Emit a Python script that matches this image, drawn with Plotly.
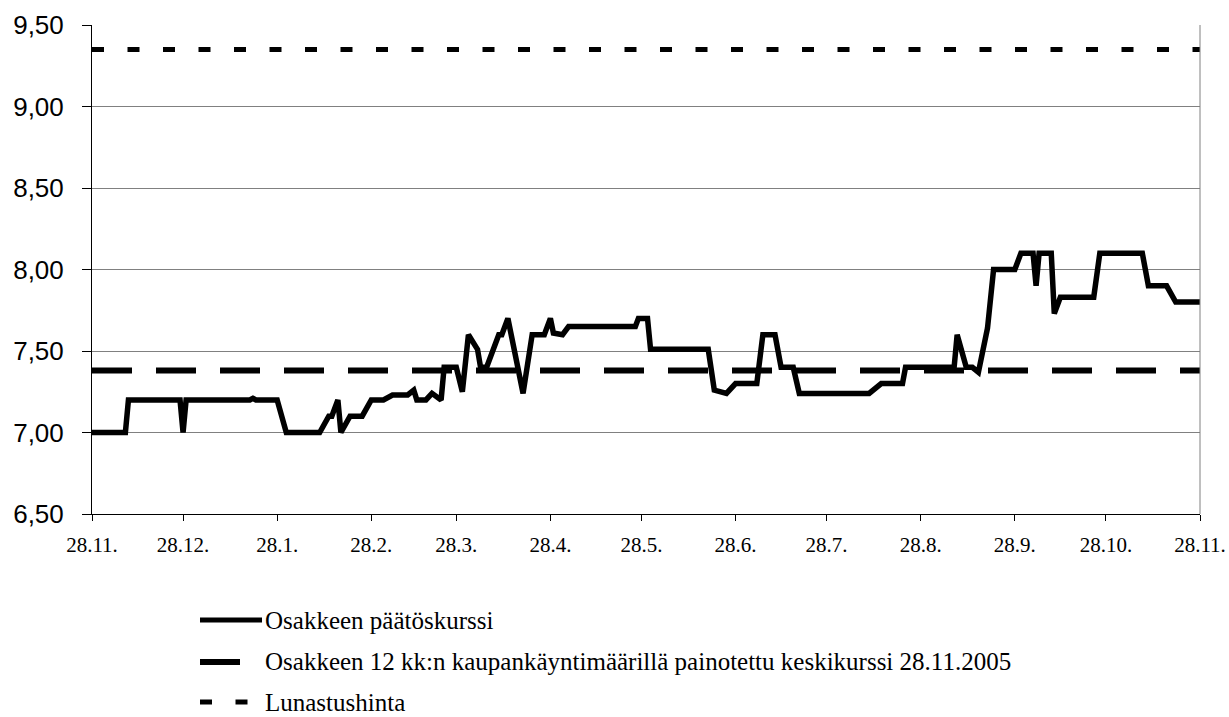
import plotly.graph_objects as go

# ---- data ----
dates = ["2004-11-28","2004-12-09","2004-12-10","2004-12-27","2004-12-28","2004-12-29",
         "2005-01-19","2005-01-20","2005-01-21","2005-01-28","2005-01-31","2005-02-11",
         "2005-02-14","2005-02-15","2005-02-17","2005-02-18","2005-02-21","2005-02-25",
         "2005-02-28","2005-03-04","2005-03-07","2005-03-12","2005-03-14","2005-03-15",
         "2005-03-18","2005-03-20","2005-03-23","2005-03-24","2005-03-28","2005-03-30",
         "2005-04-01","2005-04-04","2005-04-05","2005-04-07","2005-04-11","2005-04-12",
         "2005-04-14","2005-04-19","2005-04-22","2005-04-26","2005-04-28","2005-04-29",
         "2005-05-02","2005-05-04","2005-05-26","2005-05-27","2005-05-30","2005-05-31",
         "2005-06-19","2005-06-21","2005-06-25","2005-06-28","2005-07-05","2005-07-07",
         "2005-07-11","2005-07-13","2005-07-17","2005-07-19","2005-08-11","2005-08-15",
         "2005-08-22","2005-08-23","2005-09-08","2005-09-09","2005-09-12","2005-09-14",
         "2005-09-16","2005-09-19","2005-09-21","2005-09-28","2005-09-30","2005-10-04",
         "2005-10-05","2005-10-06","2005-10-10","2005-10-11","2005-10-13","2005-10-24",
         "2005-10-26","2005-11-09","2005-11-11","2005-11-17","2005-11-20","2005-11-28"]
closing_price = [7.00, 7.00, 7.20, 7.20, 7.00, 7.20, 7.20, 7.21, 7.20, 7.20, 7.00, 7.00,
                 7.10, 7.10, 7.20, 7.00, 7.10, 7.10, 7.20, 7.20, 7.23, 7.23, 7.26, 7.20,
                 7.20, 7.24, 7.20, 7.40, 7.40, 7.25, 7.60, 7.51, 7.40, 7.40, 7.60, 7.60,
                 7.70, 7.24, 7.60, 7.60, 7.70, 7.61, 7.60, 7.65, 7.65, 7.70, 7.70, 7.51,
                 7.51, 7.26, 7.24, 7.30, 7.30, 7.60, 7.60, 7.40, 7.40, 7.24, 7.24, 7.30,
                 7.30, 7.40, 7.40, 7.60, 7.40, 7.40, 7.37, 7.64, 8.00, 8.00, 8.10, 8.10,
                 7.90, 8.10, 8.10, 7.73, 7.83, 7.83, 8.10, 8.10, 7.90, 7.90, 7.80, 7.80]
weighted_avg = 7.38
redemption_price = 9.35

tick_dates = ["2004-11-28","2004-12-28","2005-01-28","2005-02-28","2005-03-28","2005-04-28",
              "2005-05-28","2005-06-28","2005-07-28","2005-08-28","2005-09-28","2005-10-28",
              "2005-11-28"]
tick_labels = ["28.11.","28.12.","28.1.","28.2.","28.3.","28.4.","28.5.","28.6.","28.7.",
               "28.8.","28.9.","28.10.","28.11."]
y_ticks = [6.5, 7.0, 7.5, 8.0, 8.5, 9.0, 9.5]

legend_names = ["Osakkeen päätöskurssi",
                "Osakkeen 12 kk:n kaupankäyntimäärillä painotettu keskikurssi 28.11.2005",
                "Lunastushinta"]

# ---- styles ----
W, H = 1229, 717
L, R, T, B = 92, 29, 25, 203
SERIF = "Liberation Serif, Times New Roman, serif"
SANS = "Liberation Sans, Arial, sans-serif"
avg_dash = "40px,24px"
red_dash = "12px,23.5px"

fig = go.Figure()
fig.add_trace(go.Scatter(x=[dates[0], dates[-1]], y=[redemption_price, redemption_price],
                         mode="lines", name=legend_names[2],
                         line=dict(color="black", width=5, dash=red_dash)))
fig.add_trace(go.Scatter(x=[dates[0], dates[-1]], y=[weighted_avg, weighted_avg],
                         mode="lines", name=legend_names[1],
                         line=dict(color="black", width=6, dash=avg_dash)))
fig.add_trace(go.Scatter(x=dates, y=closing_price, mode="lines", name=legend_names[0],
                         line=dict(color="black", width=5.5)))

# manual legend
pw = W - L - R
ph = H - T - B
def px_x(px):
    return (px - L) / pw
def px_y(py):
    return (H - B - py) / ph

rows_py = [620, 662, 702]
styles = [dict(width=5, dash="solid"), dict(width=6, dash=avg_dash), dict(width=5, dash=red_dash)]
shapes = []
annotations = []
for name, py, st in zip(legend_names, rows_py, styles):
    shapes.append(dict(type="line", xref="paper", yref="paper",
                       x0=px_x(200), x1=px_x(262), y0=px_y(py), y1=px_y(py),
                       line=dict(color="black", width=st["width"], dash=st["dash"])))
    annotations.append(dict(xref="paper", yref="paper", x=px_x(263), y=px_y(py),
                            xanchor="left", yanchor="middle", showarrow=False,
                            text=name, font=dict(family=SERIF, size=25, color="black")))
# right border of plot area
shapes.append(dict(type="line", xref="paper", yref="paper", x0=1, x1=1, y0=0, y1=1,
                   line=dict(color="#808080", width=1)))

fig.update_layout(
    width=W, height=H,
    margin=dict(l=L, r=R, t=T, b=B, autoexpand=False),
    paper_bgcolor="white", plot_bgcolor="white",
    showlegend=False,
    separators=",.",
    shapes=shapes, annotations=annotations,
    xaxis=dict(type="date", range=[dates[0], dates[-1]], tickvals=tick_dates, ticktext=tick_labels,
               automargin=False,
               showgrid=False, zeroline=False, showline=True, linecolor="black", linewidth=1,
               ticks="outside", ticklen=6, tickcolor="black", ticklabelstandoff=6,
               tickfont=dict(family=SERIF, size=21, color="black")),
    yaxis=dict(range=[6.5, 9.5], tickvals=y_ticks, tickformat=".2f", automargin=False,
               showgrid=True, gridcolor="#808080", gridwidth=1, zeroline=False,
               showline=True, linecolor="black", linewidth=1,
               ticks="outside", ticklen=9, tickcolor="black", ticklabelstandoff=13,
               tickfont=dict(family=SANS, size=26, color="black")),
)

fig.write_html("out.html", config={"displayModeBar": False},
               post_script="document.body.style.margin='0';document.body.style.overflow='hidden';")
